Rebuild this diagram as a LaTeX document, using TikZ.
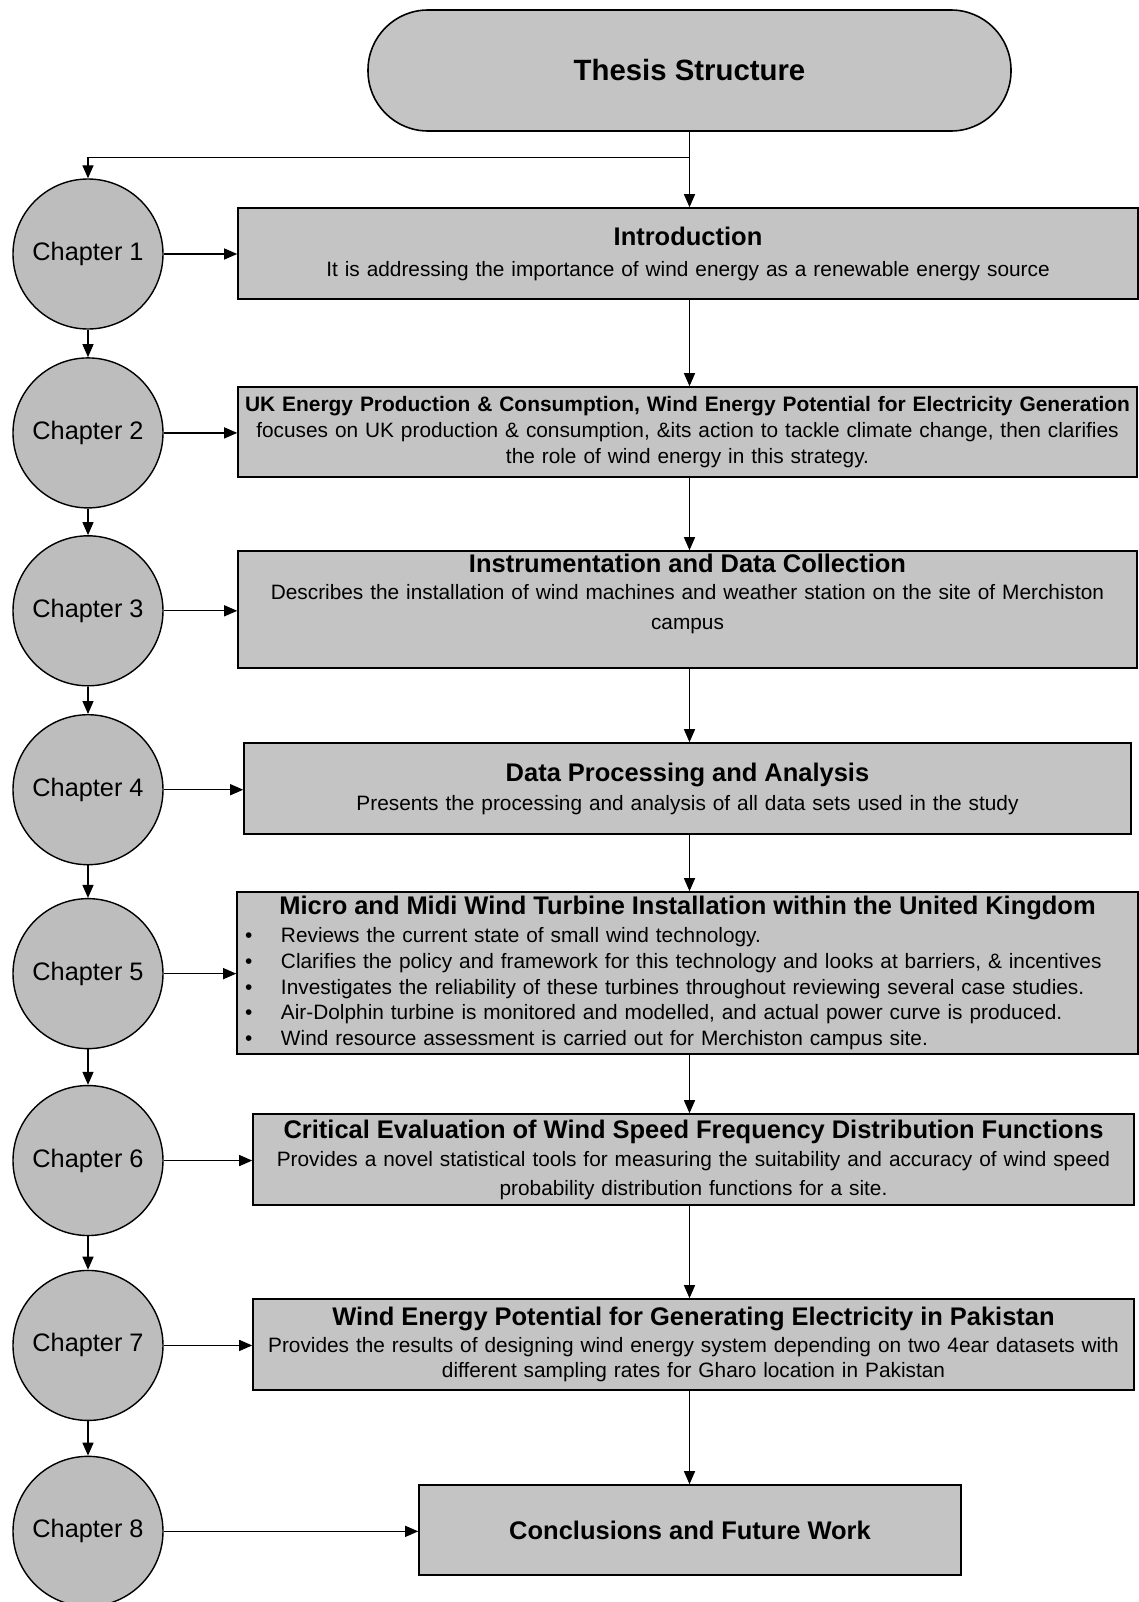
\documentclass[tikz,border=0pt]{standalone}
\usepackage{fontspec}
\setmainfont{Liberation Sans}
\usepackage{tikz}
\usetikzlibrary{arrows.meta,positioning}

\definecolor{boxfill}{gray}{0.77}
\definecolor{chapfill}{gray}{0.74}
\newcommand{\bodysize}{\fontsize{11.85}{14.6}\selectfont}
\newcommand{\boxtitle}{\fontsize{14.5}{17}\selectfont\bfseries}
\newcommand{\bulletline}[1]{\makebox[17.7cm][l]{\makebox[0.72cm][l]{\textbullet}#1}}

\begin{document}
\begin{tikzpicture}[
  node distance=0.58cm,
  chapter/.style={circle, draw, fill=chapfill, line width=0.8pt, minimum size=3cm, inner sep=0pt, font=\fontsize{14.4}{17}\selectfont},
  mainbox/.style={draw, fill=boxfill, line width=0.9pt, align=center, inner xsep=0.1cm, inner ysep=0pt, font=\bodysize},
  arrow/.style={-{Triangle[length=2.6mm, width=2.2mm]}, line width=0.7pt}
]
\useasboundingbox (0,0) rectangle (22.78,-32.04);

\node[draw, fill=boxfill, line width=0.9pt, rounded corners=1.2cm, minimum width=12.86cm, minimum height=2.42cm,
  font=\fontsize{16.7}{20}\selectfont\bfseries] (thesis) at (13.79,-1.41) {Thesis Structure};

% chapters down the left side
\node[chapter] (ch1) at (1.76,-5.08) {Chapter 1};
\node[chapter, below=0.55cm of ch1] (ch2) {Chapter 2};
\node[chapter, below=0.53cm of ch2] (ch3) {Chapter 3};
\node[chapter, below=0.55cm of ch3] (ch4) {Chapter 4};
\node[chapter, below=0.65cm of ch4] (ch5) {Chapter 5};
\node[chapter, below=0.71cm of ch5] (ch6) {Chapter 6};
\node[chapter, below=0.67cm of ch6] (ch7) {Chapter 7};
\node[chapter, below=0.69cm of ch7] (ch8) {Chapter 8};

% chapter contents
\node[mainbox, text width=17.8cm, minimum height=1.82cm] (intro) at (13.76,-5.07)
  {{\boxtitle Introduction}\\[3pt]
   It is addressing the importance of wind energy as a renewable energy source};
\node[mainbox, text width=17.78cm, minimum height=1.80cm] (ukbox) at (13.75,-8.64)
  {\makebox[\linewidth][c]{\fontsize{11.9}{14}\selectfont\bfseries UK Energy Production \& Consumption, Wind Energy Potential for Electricity Generation}\\
   focuses on UK production \& consumption, \&its action to tackle climate change, then clarifies\\
   the role of wind energy in this strategy.};
\node[mainbox, text width=17.78cm, minimum height=2.34cm] (instr) at (13.75,-12.19)
  {{\boxtitle Instrumentation and Data Collection}\\[1pt]
   Describes the installation of wind machines and weather station on the site of Merchiston\\[2.2pt]
   campus\\[0.2cm]\mbox{}};
\node[mainbox, text width=17.54cm, minimum height=1.82cm] (dataproc) at (13.75,-15.77)
  {{\boxtitle Data Processing and Analysis}\\[1.9pt]
   Presents the processing and analysis of all data sets used in the study};
\node[mainbox, text width=17.82cm, minimum height=3.24cm] (microbox) at (13.75,-19.46)
  {{\boxtitle Micro and Midi Wind Turbine Installation within the United Kingdom}\\[1.3pt]
   \bulletline{Reviews the current state of small wind technology.}\\
   \bulletline{Clarifies the policy and framework for this technology and looks at barriers, \& incentives}\\
   \bulletline{Investigates the reliability of these turbines throughout reviewing several case studies.}\\
   \bulletline{Air-Dolphin turbine is monitored and modelled, and actual power curve is produced.}\\
   \bulletline{Wind resource assessment is carried out for Merchiston campus site.}};
\node[mainbox, text width=17.42cm, minimum height=1.82cm] (critbox) at (13.87,-23.19)
  {{\boxtitle Critical Evaluation of Wind Speed Frequency Distribution Functions}\\[1.3pt]
   Provides a novel statistical tools for measuring the suitability and accuracy of wind speed\\[1.9pt]
   probability distribution functions for a site.};
\node[mainbox, text width=17.42cm, minimum height=1.82cm] (pakbox) at (13.87,-26.89)
  {{\boxtitle Wind Energy Potential for Generating Electricity in Pakistan}\\[0.8pt]
   Provides the results of designing wind energy system depending on two 4ear datasets with\\
   different sampling rates for Gharo location in Pakistan};
\node[mainbox, text width=10.64cm, minimum height=1.80cm] (concl) at (13.8,-30.6)
  {{\boxtitle Conclusions and Future Work}};

% connectors
\coordinate (split) at ([yshift=-0.52cm]thesis.south);
\draw[arrow] (thesis.south) -- (thesis.south |- intro.north);
\draw[arrow] (split) -| (ch1.north);
\foreach \a/\b in {intro/ukbox, ukbox/instr, instr/dataproc, dataproc/microbox,
                   microbox/critbox, critbox/pakbox, pakbox/concl}
  \draw[arrow] (\a.south -| thesis.south) -- (\b.north -| thesis.south);
\foreach \a/\b in {ch1/ch2, ch2/ch3, ch3/ch4, ch4/ch5, ch5/ch6, ch6/ch7, ch7/ch8}
  \draw[arrow] (\a) -- (\b);
\foreach \c/\b in {ch1/intro, ch2/ukbox, ch3/instr, ch4/dataproc, ch5/microbox,
                   ch6/critbox, ch7/pakbox, ch8/concl}
  \draw[arrow] (\c.east) -- (\c.east -| \b.west);
\end{tikzpicture}
\end{document}
